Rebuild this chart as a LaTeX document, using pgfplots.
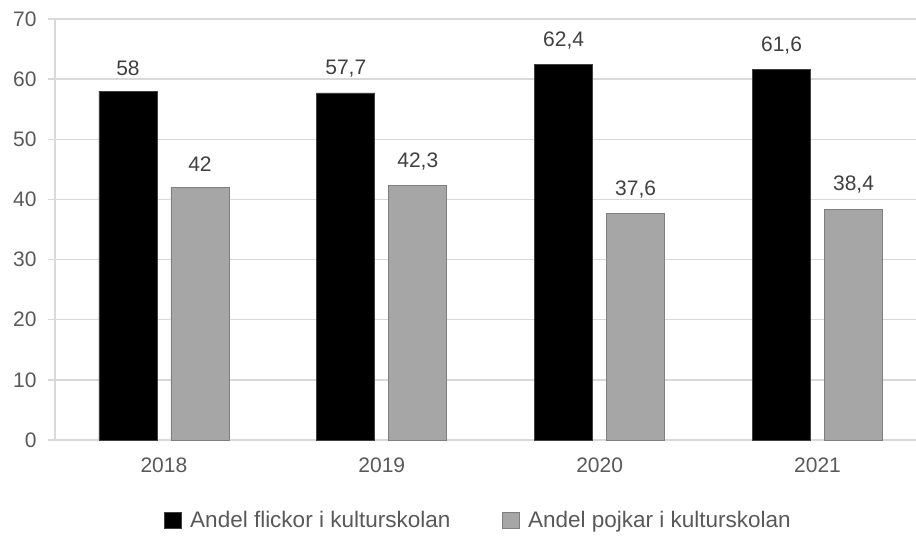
\documentclass[border=0pt]{standalone}
\usepackage{pgfplots}
\pgfplotsset{compat=1.18}
\usepackage{fontspec}
\setmainfont{Liberation Sans}
\definecolor{gridc}{HTML}{D9D9D9}
\definecolor{txt}{HTML}{595959}
\definecolor{lbl}{HTML}{404040}
\definecolor{barg}{HTML}{A6A6A6}
\definecolor{bargd}{HTML}{7F7F7F}
\begin{document}
\begin{tikzpicture}[x=1pt,y=1pt]
\path[use as bounding box] (-55,-98) rectangle (861,440);
\begin{axis}[
  at={(0,0)}, anchor=south west,
  scale only axis, width=861pt, height=421pt,
  xmin=-0.5, xmax=3.452, ymin=0, ymax=70,
  ybar=14pt, bar width=58pt,
  ytick={0,10,...,70}, xtick={0,1,2,3}, xticklabels={2018,2019,2020,2021},
  ymajorgrids, grid style={gridc, line width=1.5pt},
  axis x line*=bottom, axis y line*=left,
  axis line style={gridc, line width=1.5pt},
  xtick style={draw=none},
  ytick style={gridc, line width=1.5pt},
  tick align=outside, major tick length=7pt,
  tick label style={font=\fontsize{21}{24}\selectfont, text=txt},
  yticklabel style={xshift=-8pt},
  xticklabel style={yshift=-7pt},
  /pgf/number format/assume math mode=true,
  /pgf/number format/use comma,
  nodes near coords,
  every node near coord/.append style={font=\fontsize{21}{24}\selectfont, text=lbl, yshift=12pt},
  legend columns=2,
  legend style={draw=none, at={(rel axis cs:0.492,-0.191)}, anchor=center,
    font=\fontsize{22.5}{25}\selectfont, text=txt,
    /tikz/every odd column/.append style={column sep=6pt},
    /tikz/every even column/.append style={column sep=50pt}},
  legend image code/.code={\draw[#1] (0pt,-8pt) rectangle (17pt,8pt);},
]
\addplot[fill=black, draw=lbl, line width=0.8pt]
  coordinates {(0,58) (1,57.7) (2,62.4) (3,61.6)};
\addlegendentry{Andel flickor i kulturskolan}
\addplot[fill=barg, draw=bargd, line width=0.8pt]
  coordinates {(0,42) (1,42.3) (2,37.6) (3,38.4)};
\addlegendentry{Andel pojkar i kulturskolan}
\end{axis}
\end{tikzpicture}
\end{document}
